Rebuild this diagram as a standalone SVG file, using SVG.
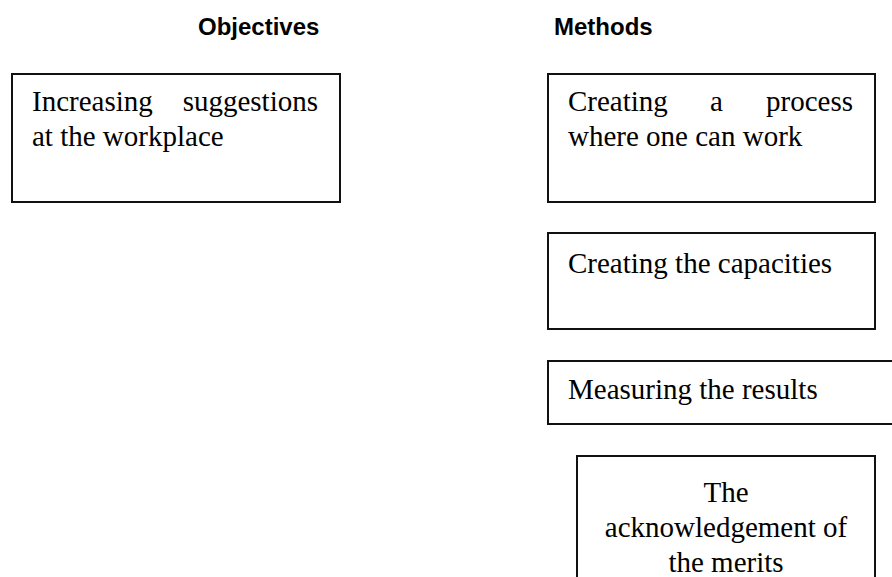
<svg xmlns="http://www.w3.org/2000/svg" width="892" height="577" viewBox="0 0 892 577">
<style>
.box{fill:#fff;stroke:#111;stroke-width:2}
.t{font-family:"Liberation Serif","Times New Roman",serif;font-size:29px;fill:#000}
.h{font-family:"Liberation Sans",Arial,sans-serif;font-size:24px;font-weight:bold;fill:#000}
</style>
<rect width="892" height="577" fill="#fff"/>
<g id="title-objectives"><text class="h" x="198" y="35">Objectives</text></g>
<g id="title-methods"><text class="h" x="554" y="35">Methods</text></g>
<g id="objective-1">
<rect class="box" x="12" y="74" width="328" height="128"/>
<text class="t" x="32" y="111">Increasing</text>
<text class="t" x="318" y="111" text-anchor="end">suggestions</text>
<text class="t" x="32" y="146">at the workplace</text>
</g>
<g id="method-1">
<rect class="box" x="548" y="74" width="327" height="128"/>
<text class="t" x="568" y="111">Creating</text>
<text class="t" x="710" y="111">a</text>
<text class="t" x="853" y="111" text-anchor="end">process</text>
<text class="t" x="568" y="146">where one can work</text>
</g>
<g id="method-2">
<rect class="box" x="548" y="233" width="327" height="96"/>
<text class="t" x="568" y="273">Creating the capacities</text>
</g>
<g id="method-3">
<rect class="box" x="548" y="361" width="350" height="63"/>
<text class="t" x="568" y="399">Measuring the results</text>
</g>
<g id="method-4">
<rect class="box" x="577" y="456" width="298" height="140"/>
<text class="t" x="726" y="502" text-anchor="middle">The</text>
<text class="t" x="726" y="537" text-anchor="middle">acknowledgement of</text>
<text class="t" x="726" y="572" text-anchor="middle">the merits</text>
</g>
<g id="connectors"></g>
</svg>
